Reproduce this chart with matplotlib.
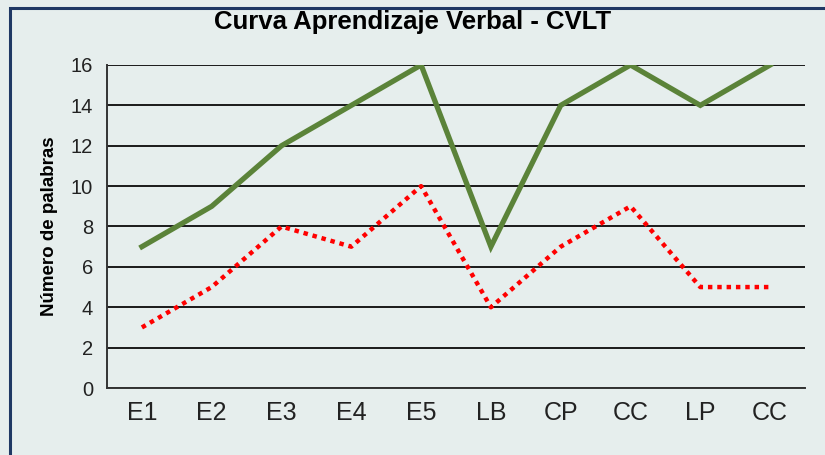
import matplotlib.pyplot as plt
from matplotlib.patches import Rectangle

# datos de la curva
categorias = ['E1', 'E2', 'E3', 'E4', 'E5', 'LB', 'CP', 'CC', 'LP', 'CC']
serie_verde = [7, 9, 12, 14, 16, 7, 14, 16, 14, 16]
serie_roja = [3, 5, 8, 7, 10, 4, 7, 9, 5, 5]
y_ticks = [0, 2, 4, 6, 8, 10, 12, 14, 16]

plt.rcParams['font.family'] = ['Liberation Sans', 'DejaVu Sans']

fig = plt.figure(figsize=(8.25, 4.55), dpi=100)
fig.patch.set_facecolor('#e6eeed')

# marco azul oscuro
fig.patches.append(Rectangle((10 / 825, -0.05), 1.1, 1 - 8 / 455 + 0.05,
                             transform=fig.transFigure, fill=False,
                             edgecolor='#1f3864', linewidth=2.2))

ax = fig.add_axes([107 / 825, 1 - 388 / 455, 698 / 825, 323 / 455])
ax.set_facecolor('none')

x = range(len(categorias))
ax.plot(x, serie_verde, color='#5b8339', linewidth=3.8, solid_joinstyle='miter')
ax.plot(x, serie_roja, color='#ff0000', linewidth=3.2, linestyle=(0, (1, 1.1)),
        dash_capstyle='butt')

ax.set_xlim(-0.5, len(categorias) - 0.5)
ax.set_ylim(0, 16)
ax.set_yticks(y_ticks)
ax.set_xticks(list(x))
ax.set_xticklabels(categorias, fontsize=18)
ax.tick_params(axis='y', labelsize=14.5, length=0, pad=10)
ax.tick_params(axis='x', length=0, pad=9)
for lab in ax.get_yticklabels() + ax.get_xticklabels():
    lab.set_color('#222222')

ax.grid(axis='y', color='#1a1a1a', linewidth=1.4)
ax.set_axisbelow(True)
for s in ['top', 'right']:
    ax.spines[s].set_visible(False)
ax.spines['left'].set_color('#333333')
ax.spines['left'].set_linewidth(1.4)
ax.spines['bottom'].set_color('#333333')
ax.spines['bottom'].set_linewidth(1.4)

ax.set_ylabel('Número de palabras', fontsize=13.5, fontweight='bold', labelpad=9)
fig.text(0.5, 1 - 22 / 455, 'Curva Aprendizaje Verbal - CVLT', ha='center', va='center',
         fontsize=18.5, fontweight='bold')

fig.savefig('out.png', dpi=100, facecolor=fig.get_facecolor())
